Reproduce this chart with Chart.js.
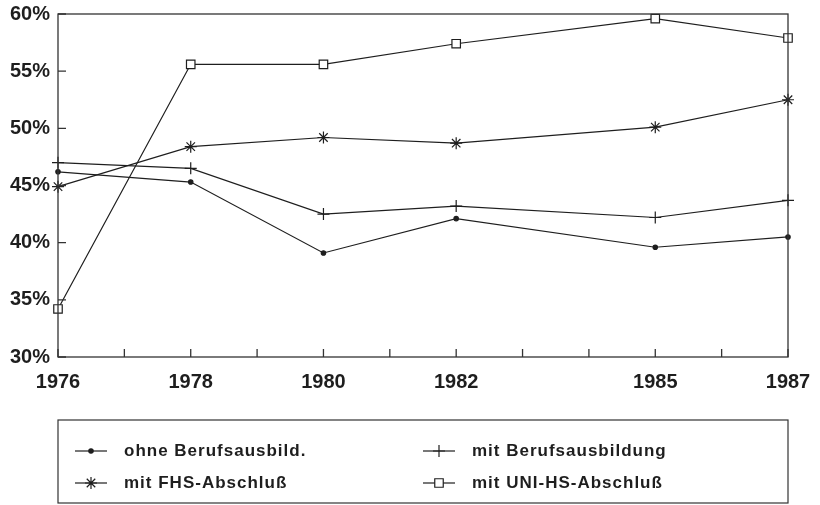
<!DOCTYPE html>
<html>
<head>
<meta charset="utf-8">
<script src="https://cdn.jsdelivr.net/npm/chart.js@4/dist/chart.umd.min.js"></script>
<style>
  body { margin: 0; background: #fff; }
  #wrap { width: 820px; height: 505px; }
</style>
</head>
<body>
<div id="wrap"><canvas id="chart"></canvas></div>
<script>
const years = [1976, 1978, 1980, 1982, 1985, 1987];
const labeledYears = [1976, 1978, 1980, 1982, 1985, 1987];

const ohneBerufsausbild = [46.2, 45.3, 39.1, 42.1, 39.6, 40.5];
const mitBerufsausbildung = [47.0, 46.5, 42.5, 43.2, 42.2, 43.7];
const mitFHS = [44.9, 48.4, 49.2, 48.7, 50.1, 52.5];
const mitUNI = [34.2, 55.6, 55.6, 57.4, 59.6, 57.9];

const ink = "#1e1e1e";
const fontFamily = "'Liberation Sans', Arial, sans-serif";

function points(values) {
  return years.map((y, i) => ({ x: y, y: values[i] }));
}

function series(label, values, style, radius, fill) {
  return {
    label: label,
    data: points(values),
    borderColor: ink,
    borderWidth: 1.2,
    pointStyle: style,
    pointRadius: radius,
    pointHoverRadius: radius,
    pointBorderWidth: 1.2,
    pointBorderColor: ink,
    pointBackgroundColor: fill,
    tension: 0,
    clip: false,
  };
}

// box, inner ticks
const framePlugin = {
  id: "frame",
  afterDraw(chart) {
    const ctx = chart.ctx;
    const { left, right, top, bottom } = chart.chartArea;
    ctx.save();
    ctx.strokeStyle = "#333";
    ctx.lineWidth = 1.3;
    ctx.strokeRect(left, top, right - left, bottom - top);
    ctx.beginPath();
    chart.scales.x.ticks.forEach((t) => {
      const px = chart.scales.x.getPixelForValue(t.value);
      ctx.moveTo(px, bottom);
      ctx.lineTo(px, bottom - 8);
    });
    chart.scales.y.ticks.forEach((t) => {
      const py = chart.scales.y.getPixelForValue(t.value);
      ctx.moveTo(left, py);
      ctx.lineTo(left + 8, py);
    });
    ctx.stroke();
    ctx.restore();
  },
};

// legend box below the plot
const boxLegend = {
  id: "boxLegend",
  afterDraw(chart) {
    const ctx = chart.ctx;
    const { left, right } = chart.chartArea;
    const boxTop = 420, boxBottom = 503;
    const cols = [75, 423];
    const rows = [451, 483];
    ctx.save();
    ctx.strokeStyle = "#333";
    ctx.lineWidth = 1.2;
    ctx.strokeRect(left, boxTop, right - left, boxBottom - boxTop);
    chart.data.datasets.forEach((ds, i) => {
      const x0 = cols[i % 2];
      const y0 = rows[Math.floor(i / 2)];
      ctx.strokeStyle = ink;
      ctx.lineWidth = 1.2;
      ctx.beginPath();
      ctx.moveTo(x0, y0);
      ctx.lineTo(x0 + 32, y0);
      ctx.stroke();
      ctx.fillStyle = ds.pointBackgroundColor;
      Chart.helpers.drawPoint(ctx, {
        pointStyle: ds.pointStyle,
        radius: ds.pointRadius,
        borderWidth: ds.pointBorderWidth,
        rotation: 0,
      }, x0 + 16, y0);
      ctx.fillStyle = ink;
      ctx.font = "bold 17px " + fontFamily;
      ctx.letterSpacing = "1px";
      ctx.textBaseline = "middle";
      ctx.fillText(ds.label, x0 + 49, y0);
    });
    ctx.restore();
  },
};

const ctx = document.getElementById("chart").getContext("2d");

let lineChart = new Chart(ctx, {
  type: "line",
  data: {
    datasets: [
      series("ohne Berufsausbild.", ohneBerufsausbild, "circle", 2.2, ink),
      series("mit Berufsausbildung", mitBerufsausbildung, "cross", 6, ink),
      series("mit FHS-Abschluß", mitFHS, "star", 6, ink),
      series("mit UNI-HS-Abschluß", mitUNI, "rect", 6, "#fff"),
    ],
  },
  plugins: [framePlugin, boxLegend],
  options: {
    responsive: true,
    maintainAspectRatio: false,
    animation: false,
    events: [],
    layout: {
      padding: { top: 14, right: 32, bottom: 0, left: 0 },
    },
    plugins: {
      legend: { display: false },
      tooltip: { enabled: false },
    },
    scales: {
      x: {
        type: "linear",
        min: 1976,
        max: 1987,
        afterFit: (scale) => {
          scale.height = 148;
          scale.paddingLeft = 0;
          scale.paddingRight = 0;
        },
        afterBuildTicks: (scale) => {
          const t = [];
          for (let v = 1976; v <= 1987; v++) t.push({ value: v });
          scale.ticks = t;
        },
        ticks: {
          autoSkip: false,
          maxRotation: 0,
          padding: 13,
          color: ink,
          font: { family: fontFamily, size: 20, weight: "bold" },
          callback: function (value) {
            return labeledYears.includes(value) ? String(value) : "";
          },
        },
        grid: { display: false, drawTicks: false },
        border: { display: false },
      },
      y: {
        min: 30,
        max: 60,
        afterFit: (scale) => {
          scale.width = 58;
          scale.paddingTop = 0;
          scale.paddingBottom = 0;
        },
        ticks: {
          stepSize: 5,
          padding: 8,
          color: ink,
          font: { family: fontFamily, size: 20, weight: "bold" },
          callback: function (value) {
            return value + "%";
          },
        },
        grid: { display: false, drawTicks: false },
        border: { display: false },
      },
    },
  },
});
</script>
</body>
</html>
